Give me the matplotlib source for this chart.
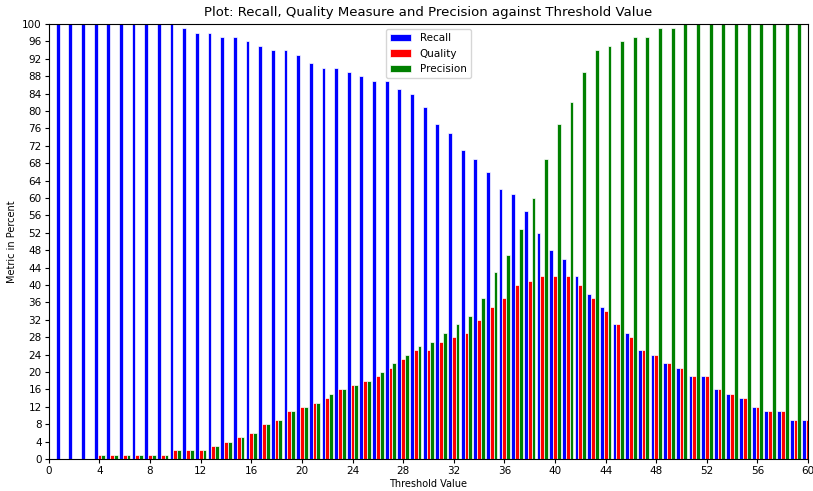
import numpy as np
import matplotlib
matplotlib.use("Agg")
import matplotlib.pyplot as plt

thresholds = list(range(1, 61))

recall = [100, 100, 100, 100, 100, 100, 100, 100, 100, 100,
          99, 98, 98, 97, 97, 96, 95, 94, 94, 93,
          91, 90, 90, 89, 88, 87, 87, 85, 84, 81,
          77, 75, 71, 69, 66, 62, 61, 57, 52, 48,
          46, 42, 38, 35, 31, 29, 25, 24, 22, 21,
          19, 19, 16, 15, 14, 12, 11, 11, 9, 9]

quality = [0, 0, 0, 1, 1, 1, 1, 1, 1, 2,
           2, 2, 3, 4, 5, 6, 8, 9, 11, 12,
           13, 14, 16, 17, 18, 19, 21, 23, 25, 25,
           27, 28, 29, 32, 35, 37, 40, 41, 42, 42,
           42, 40, 37, 34, 31, 28, 25, 24, 22, 21,
           19, 19, 16, 15, 14, 12, 11, 11, 9, 9]

precision = [0, 0, 0, 1, 1, 1, 1, 1, 1, 2,
             2, 2, 3, 4, 5, 6, 8, 9, 11, 12,
             13, 15, 16, 17, 18, 20, 22, 24, 26, 27,
             29, 31, 33, 37, 43, 47, 53, 60, 69, 77,
             82, 89, 94, 95, 96, 97, 97, 99, 99, 100,
             100, 100, 100, 100, 100, 100, 100, 100, 100, 100]

x = np.array(thresholds)
w = 0.3

fig = plt.figure(figsize=(8.13, 4.91), dpi=100)
ax = fig.add_axes([0.060, 0.065, 0.934, 0.886])

ax.bar(x - w, recall, width=w, color="blue", edgecolor="white", linewidth=0.5, label="Recall")
ax.bar(x, quality, width=w, color="red", edgecolor="white", linewidth=0.5, label="Quality")
ax.bar(x + w, precision, width=w, color="green", edgecolor="white", linewidth=0.5, label="Precision")

ax.set_xlim(0, 60)
ax.set_ylim(0, 100)
ax.set_xticks(range(0, 61, 4))
ax.set_yticks(range(0, 101, 4))
ax.tick_params(labelsize=7.5, length=3, pad=2)
ax.set_title("Plot: Recall, Quality Measure and Precision against Threshold Value", fontsize=9.5)
ax.set_xlabel("Threshold Value", fontsize=7, labelpad=2)
ax.set_ylabel("Metric in Percent", fontsize=7, labelpad=4)
ax.legend(loc="upper center", fontsize=7.5)

fig.savefig("out.png", dpi=100)
